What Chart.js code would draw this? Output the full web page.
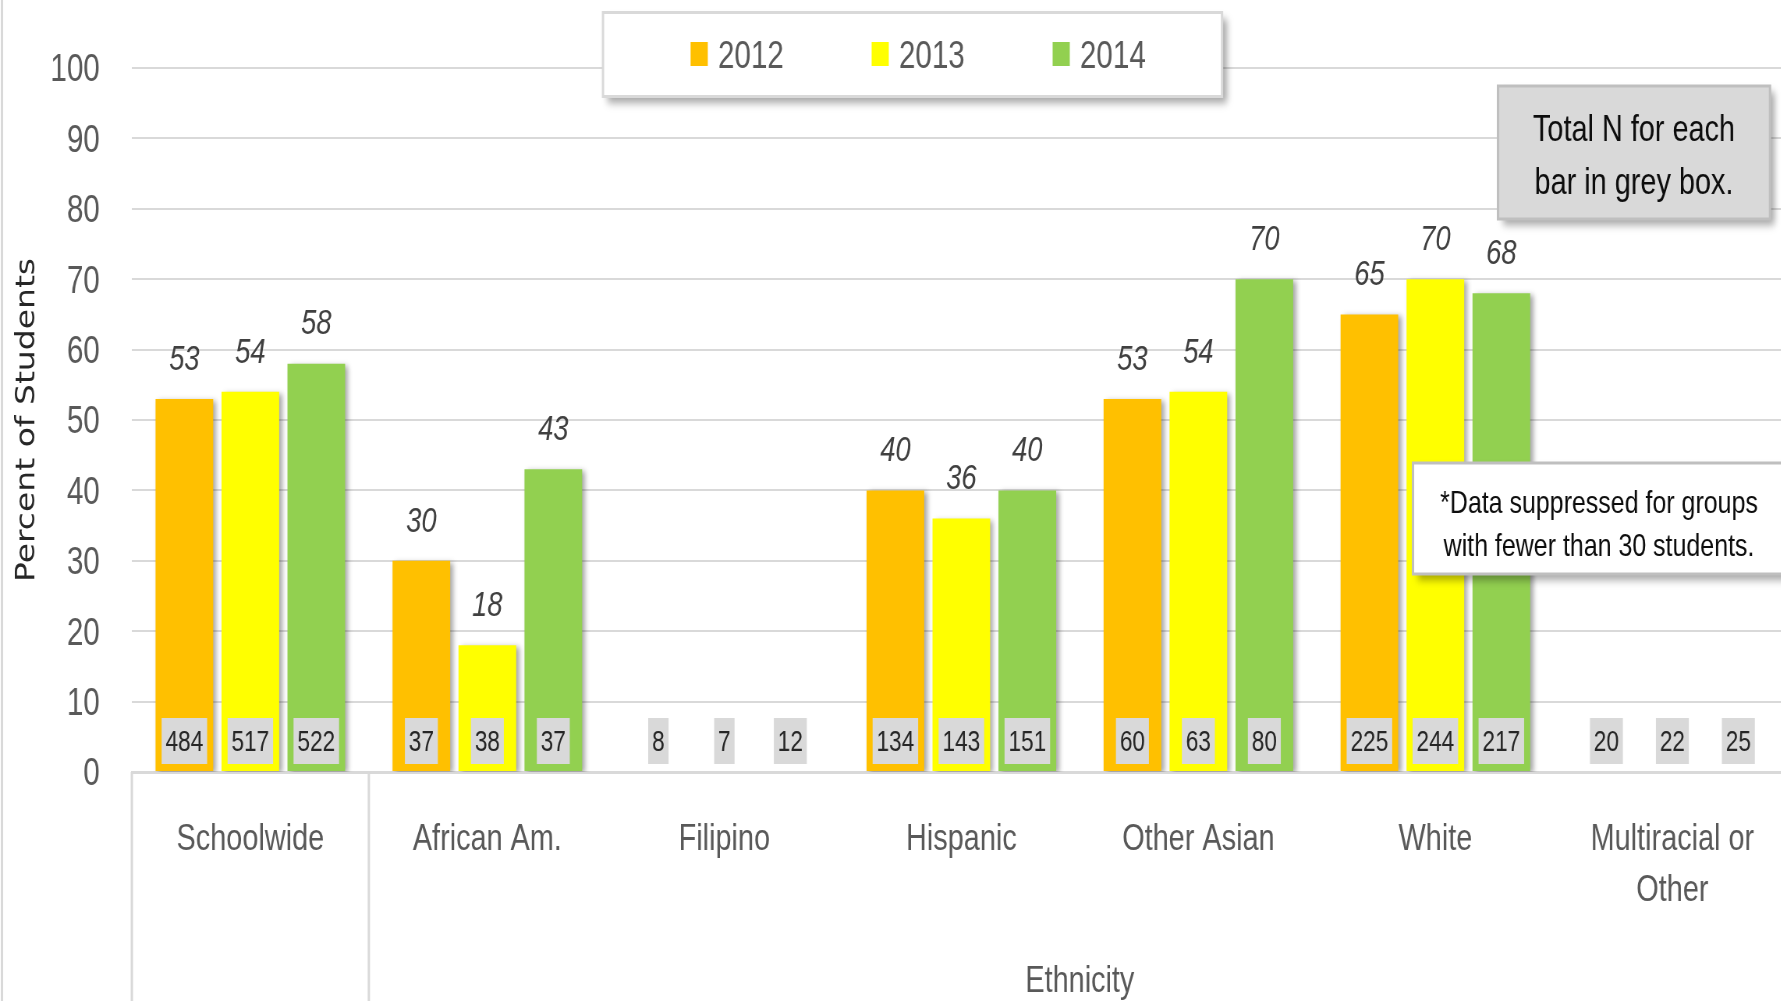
<!DOCTYPE html>
<html>
<head>
<meta charset="utf-8">
<title>Percent of Students by Ethnicity</title>
<script src="https://cdn.jsdelivr.net/npm/chart.js@4.4.1/dist/chart.umd.min.js"></script>
<style>
  html, body { margin: 0; padding: 0; background: #fff; overflow: hidden; width: 1781px; height: 1001px; }
  /* the original picture is squeezed sideways, so the whole chart is drawn wide and compressed */
  #wrap { position: absolute; left: 0; top: 0; width: 2310px; height: 1001px; transform: scaleX(0.78); transform-origin: 0 0; }
</style>
</head>
<body>
<div id="wrap"><canvas id="chart" width="2310" height="1001"></canvas></div>
<script>
const categories = ['Schoolwide', 'African Am.', 'Filipino', 'Hispanic', 'Other Asian', 'White', ['Multiracial or', 'Other']];
const years = ['2012', '2013', '2014'];

// percent of students (null = suppressed, fewer than 30 students)
const pct2012 = [53, 30, null, 40, 53, 65, null];
const pct2013 = [54, 18, null, 36, 54, 70, null];
const pct2014 = [58, 43, null, 40, 70, 68, null];

// total N for each bar
const n2012 = [484, 37, 8, 134, 60, 225, 20];
const n2013 = [517, 38, 7, 143, 63, 244, 22];
const n2014 = [522, 37, 12, 151, 80, 217, 25];

const yTitle = 'Percent of Students';
const groupTitle = 'Ethnicity';
const noteN = ['Total N for each', 'bar in grey box.'];
const noteSuppressed = ['*Data suppressed for groups', 'with fewer than 30 students.'];

const colors = ['#FFC000', '#FFFF00', '#92D050'];
const pcts = [pct2012, pct2013, pct2014];
const counts = [n2012, n2013, n2014];

const SX = 0.78;
const fx = v => v / SX; // page x -> canvas x
const FONT = '"Liberation Sans", Arial, sans-serif';

function boxWithShadow(ctx, x, y, w, h, fill, stroke) {
  ctx.save();
  ctx.shadowColor = 'rgba(0,0,0,0.35)';
  ctx.shadowBlur = 8;
  ctx.shadowOffsetX = 6;
  ctx.shadowOffsetY = 6;
  ctx.fillStyle = fill;
  ctx.fillRect(x, y, w, h);
  ctx.restore();
  ctx.strokeStyle = stroke;
  ctx.lineWidth = 3;
  ctx.strokeRect(x, y, w, h);
}

const decorations = {
  id: 'decorations',
  beforeDatasetsDraw(chart) {
    const ctx = chart.ctx;
    ctx.save();
    ctx.shadowColor = 'rgba(0,0,0,0.35)';
    ctx.shadowBlur = 6;
    ctx.shadowOffsetX = 4;
    ctx.shadowOffsetY = 2;
  },
  afterDatasetsDraw(chart) {
    const ctx = chart.ctx;
    ctx.restore();
    ctx.save();
    ctx.textAlign = 'center';
    ctx.textBaseline = 'middle';
    chart.data.datasets.forEach((ds, i) => {
      const meta = chart.getDatasetMeta(i);
      meta.data.forEach((bar, j) => {
        const v = ds.data[j];
        if (v != null) {
          ctx.font = 'italic 35px ' + FONT;
          ctx.fillStyle = '#404040';
          ctx.fillText(String(v), bar.x, bar.y - 39);
        }
        const n = String(ds.counts[j]);
        ctx.font = '29px ' + FONT;
        const w = ctx.measureText(n).width + 10;
        ctx.fillStyle = '#d9d9d9';
        ctx.fillRect(bar.x - w / 2, 718, w, 46);
        ctx.fillStyle = '#262626';
        ctx.fillText(n, bar.x, 742.5);
      });
    });
    ctx.restore();
  },
  afterDraw(chart) {
    const ctx = chart.ctx;
    const xs = chart.scales.x;
    const half = (xs.getPixelForTick(1) - xs.getPixelForTick(0)) / 2;
    ctx.save();

    // left border of the picture
    ctx.strokeStyle = '#d9d9d9';
    ctx.lineWidth = 3;
    ctx.beginPath();
    ctx.moveTo(2.5, 0);
    ctx.lineTo(2.5, chart.height);
    ctx.stroke();

    // multi-level category dividers
    const edges = [xs.getPixelForTick(0) - half, xs.getPixelForTick(0) + half];
    edges.forEach(x => {
      ctx.beginPath();
      ctx.moveTo(x, xs.top);
      ctx.lineTo(x, chart.height);
      ctx.stroke();
    });

    // group label under the ethnic groups
    const gx = (xs.getPixelForTick(1) - half + xs.getPixelForTick(categories.length - 1) + half) / 2;
    ctx.font = '37px ' + FONT;
    ctx.fillStyle = '#595959';
    ctx.textAlign = 'center';
    ctx.textBaseline = 'middle';
    ctx.fillText(groupTitle, gx, 982);

    // legend
    boxWithShadow(ctx, fx(603), 12.5, fx(1222) - fx(603), 84, '#ffffff', '#d9d9d9');
    chart.data.datasets.forEach((ds, i) => {
      const x = fx(690.6) + i * fx(181);
      ctx.fillStyle = ds.backgroundColor;
      ctx.fillRect(x, 42, 22, 24);
      ctx.font = '38px ' + FONT;
      ctx.fillStyle = '#595959';
      ctx.textAlign = 'left';
      ctx.fillText(ds.label, x + 35, 57.5);
    });

    // note: total N
    boxWithShadow(ctx, fx(1498), 86, fx(1770) - fx(1498), 133, '#d9d9d9', '#bfbfbf');
    ctx.font = '37px ' + FONT;
    ctx.fillStyle = '#0d0d0d';
    ctx.textAlign = 'center';
    noteN.forEach((t, k) => ctx.fillText(t, fx(1634), 131 + k * 53));

    // note: suppressed data
    boxWithShadow(ctx, fx(1413), 463, fx(1800) - fx(1413), 111, '#ffffff', '#bfbfbf');
    ctx.font = '32px ' + FONT;
    ctx.fillStyle = '#0d0d0d';
    noteSuppressed.forEach((t, k) => ctx.fillText(t, fx(1599), 504 + k * 43));

    ctx.restore();
  }
};

new Chart(document.getElementById('chart'), {
  type: 'bar',
  data: {
    labels: categories,
    datasets: years.map((y, i) => ({
      label: y,
      data: pcts[i],
      counts: counts[i],
      backgroundColor: colors[i],
      borderWidth: 0
    }))
  },
  options: {
    responsive: false,
    animation: false,
    devicePixelRatio: 1,
    layout: { padding: { left: 0, right: 14, top: 68, bottom: 0 } },
    datasets: { bar: { categoryPercentage: 0.835, barPercentage: 0.874 } },
    plugins: { legend: { display: false }, tooltip: { enabled: false } },
    scales: {
      x: {
        grid: { display: false, drawTicks: false },
        border: { display: true, color: '#d9d9d9', width: 3 },
        ticks: {
          color: '#595959',
          font: { family: FONT, size: 37, lineHeight: 1.38 },
          padding: 42,
          maxRotation: 0,
          minRotation: 0,
          autoSkip: false
        },
        afterFit: s => { s.height = 229; }
      },
      y: {
        min: 0,
        max: 100,
        grid: { color: '#d9d9d9', lineWidth: 2, drawTicks: false },
        border: { display: false },
        ticks: { stepSize: 10, color: '#595959', font: { family: FONT, size: 38 }, padding: 41, labelOffset: 3 },
        title: {
          display: true,
          text: yTitle,
          color: '#262626',
          font: { family: '"DejaVu Sans", sans-serif', size: 33 },
          padding: { top: 16, bottom: 0 }
        },
        afterFit: s => { s.width = 169; }
      }
    }
  },
  plugins: [decorations]
});
</script>
</body>
</html>
